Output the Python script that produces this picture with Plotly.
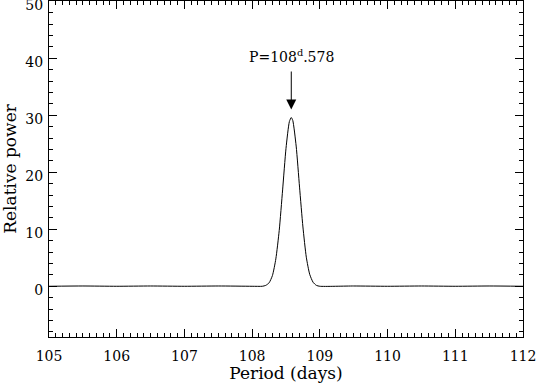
import plotly.graph_objects as go

# ---- Data ----
period = [105.0, 105.5, 106.0, 106.5, 107.0, 107.5, 108.0, 108.15, 108.2, 108.25,
          108.3, 108.35, 108.4, 108.45, 108.5, 108.55, 108.578, 108.6, 108.65,
          108.7, 108.75, 108.8, 108.85, 108.9, 108.95, 109.0, 109.5, 110.0,
          110.5, 111.0, 111.5, 112.0]
power = [0.0, 0.05, 0.0, 0.05, 0.0, 0.05, 0.0, 0.0, 0.15, 0.6,
         1.9, 4.8, 9.8, 16.9, 24.2, 28.9, 29.6, 29.1, 24.6,
         17.4, 10.4, 5.1, 2.1, 0.7, 0.15, 0.0, 0.05, 0.0,
         0.05, 0.0, 0.05, 0.0]

peak_period = 108.578
peak_label = "P=108<sup>d</sup>.578"

FONT = "DejaVu Serif"

fig = go.Figure()
fig.add_trace(go.Scatter(
    x=period, y=power, mode="lines",
    line=dict(color="black", width=1, shape="spline", smoothing=0.6),
    hoverinfo="skip", showlegend=False,
))

# label with arrow pointing down at the peak
fig.add_annotation(
    x=peak_period, y=31.0, ax=peak_period, ay=40.4,
    xref="x", yref="y", axref="x", ayref="y",
    text=peak_label, showarrow=True, arrowhead=2, arrowsize=2.0,
    arrowwidth=1, arrowcolor="black", borderpad=6,
    font=dict(family=FONT, size=14, color="black"),
)

axis_common = dict(
    showgrid=False, zeroline=False, showline=True, linecolor="black",
    linewidth=1, mirror="allticks", ticks="inside", ticklen=8,
    tickwidth=1, tickcolor="black", ticklabeloverflow="allow",
    tickfont=dict(family=FONT, size=14, color="black"),
)

fig.update_layout(
    width=537, height=383,
    paper_bgcolor="white", plot_bgcolor="white",
    margin=dict(l=49, r=14, t=1, b=46, autoexpand=False),
    font=dict(family=FONT, size=14, color="black"),
    xaxis=dict(
        range=[105, 112], dtick=1, tick0=105,
        title=dict(text="Period (days)", standoff=2),
        ticklabelstandoff=6,
        minor=dict(dtick=0.1, ticks="inside", ticklen=4, tickcolor="black"),
        **axis_common,
    ),
    yaxis=dict(
        range=[-8.9, 50.05], dtick=10, tick0=0,
        title=dict(text="Relative power", standoff=6),
        ticklabelstandoff=2, ticklabelshift=4,
        minor=dict(dtick=2, ticks="inside", ticklen=4, tickcolor="black"),
        **axis_common,
    ),
)

fig.write_html("out.html", config={"displayModeBar": False},
               post_script="document.body.style.margin='0';")
